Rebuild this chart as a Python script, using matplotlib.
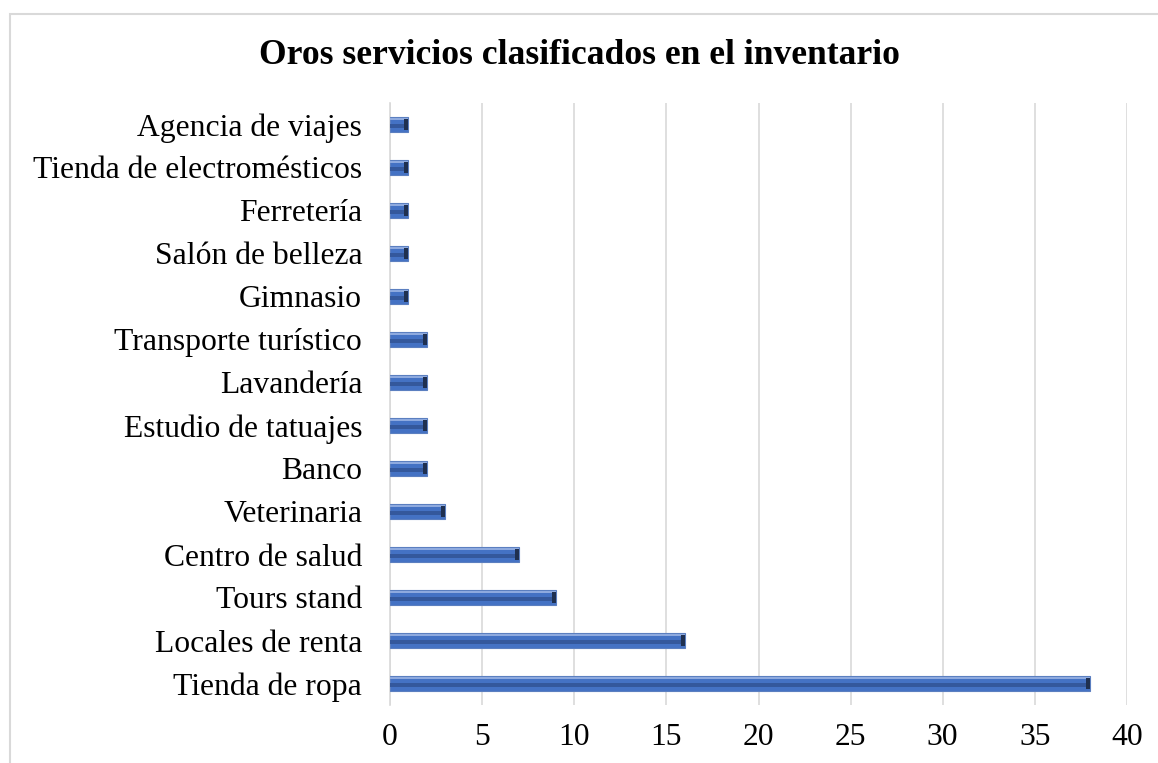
import matplotlib.pyplot as plt
from matplotlib.patches import Rectangle

# Data (top to bottom as in the chart)
categories = ['Agencia de viajes', 'Tienda de electromésticos', 'Ferretería', 'Salón de belleza',
              'Gimnasio', 'Transporte turístico', 'Lavandería', 'Estudio de tatuajes',
              'Banco', 'Veterinaria', 'Centro de salud', 'Tours stand',
              'Locales de renta', 'Tienda de ropa']
values = [1, 1, 1, 1, 1, 2, 2, 2, 2, 3, 7, 9, 16, 38]
xticks = [0, 5, 10, 15, 20, 25, 30, 35, 40]

plt.rcParams['font.family'] = ['Liberation Serif', 'DejaVu Serif']

fig = plt.figure(figsize=(11.58, 7.63), dpi=100)
ax = fig.add_axes([390 / 1158, 1 - 705 / 763, (1127 - 390) / 1158, (705 - 103) / 763])

# outer chart border (only top and left visible, cropped)
fig.patches.append(Rectangle((10 / 1158, -0.05), 1.2, 1 - 14 / 763 + 0.05,
                             transform=fig.transFigure, fill=False,
                             edgecolor='#D9D9D9', linewidth=1.5))

pos = list(range(len(categories)))[::-1]
h = 0.33
# bevel-like bars
ax.barh(pos, values, height=h, color='#4472C4', edgecolor='#5B7FC0', linewidth=0.8, zorder=3)
ax.barh([p - h * 0.1 for p in pos], values, height=h * 0.3, color='#34589C',
        linewidth=0, zorder=4)
ax.barh([p + h * 0.38 for p in pos], values, height=h * 0.12, color='#8EAADF',
        linewidth=0, zorder=4)
ax.barh(pos, [0.22] * len(values), left=[v - 0.22 for v in values], height=h * 0.8,
        color='#1F3050', linewidth=0, zorder=5)

ax.set_xlim(0, 40)
ax.set_ylim(-0.5, len(categories) - 0.5)
ax.set_yticks(pos)
ax.set_yticklabels(categories, fontsize=22.8)
ax.set_xticks(xticks)
ax.set_xticklabels([str(t) for t in xticks], fontsize=22.8)
ax.tick_params(axis='y', length=0, pad=20)
ax.tick_params(axis='x', length=0, pad=13)
ax.grid(axis='x', color='#D9D9D9', linewidth=1.2, zorder=0)
for s in ['top', 'right', 'bottom']:
    ax.spines[s].set_visible(False)
ax.spines['left'].set_color('#D9D9D9')
ax.spines['left'].set_linewidth(1.2)

fig.text(0.5, 1 - 55 / 763, 'Oros servicios clasificados en el inventario',
         ha='center', va='center', fontsize=25.6, fontweight='bold')

fig.savefig('out.png', dpi=100)
